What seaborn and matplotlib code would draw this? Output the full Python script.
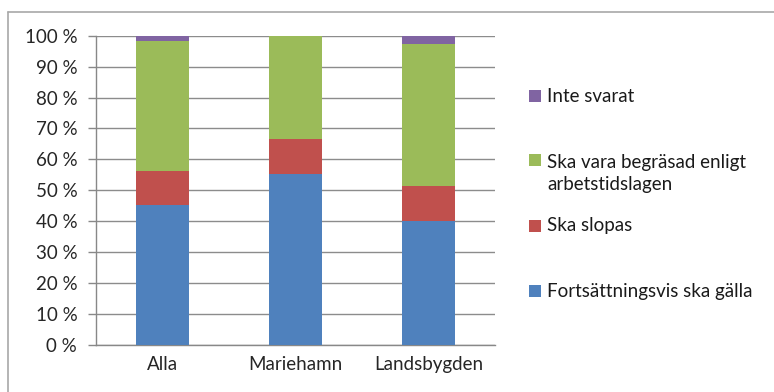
import matplotlib.pyplot as plt
import seaborn as sns
import pandas as pd
from matplotlib.patches import Rectangle
from matplotlib.lines import Line2D

groups = ["Alla", "Mariehamn", "Landsbygden"]
series = ["Fortsättningsvis ska gälla", "Ska slopas",
          "Ska vara begräsad enligt\narbetstidslagen", "Inte svarat"]
fortsatt = [45.3, 55.2, 40.2]
slopas = [11.0, 11.5, 11.3]
begransad = [41.9, 33.3, 45.8]
inte_svarat = [1.8, 0.0, 2.7]
colors = ["#4F81BD", "#C0504D", "#9BBB59", "#8064A2"]

df = pd.DataFrame({"grupp": groups, series[0]: fortsatt, series[1]: slopas,
                   series[2]: begransad, series[3]: inte_svarat})
cum = df[series].cumsum(axis=1)
cum["grupp"] = df["grupp"]

sns.set_style("white")
plt.rcParams["font.family"] = ["Lato", "DejaVu Sans"]
fs = 13.5

W, H = 774, 392
fig = plt.figure(figsize=(W / 100, H / 100), dpi=100)
ax = fig.add_axes([96 / W, 1 - 345 / H, (495 - 96) / W, (345 - 35.7) / H])

# stacked bars: draw cumulative totals from the top layer down
for s, c in reversed(list(zip(series, colors))):
    sns.barplot(data=cum, x="grupp", y=s, color=c, width=0.4, ax=ax,
                saturation=1, linewidth=0, zorder=3)

ax.set_ylim(0, 100)
ax.set_xlim(-0.5, 2.5)
ax.set_yticks(range(0, 101, 10))
ax.set_yticklabels([f"{v} %" for v in range(0, 101, 10)], fontsize=fs)
ax.set_xticks([0, 1, 2])
ax.set_xticklabels(groups, fontsize=fs)
ax.set_xticks([-0.5, 0.5, 1.5, 2.5], minor=True)
ax.tick_params(axis="x", which="major", length=0, pad=8)
ax.tick_params(axis="x", which="minor", length=4, color="#888888", width=1)
ax.tick_params(axis="y", length=5.5, color="#888888", width=1, left=True, pad=8)
ax.set_xlabel("")
ax.set_ylabel("")
ax.yaxis.grid(True, color="#8c8c8c", linewidth=1)
ax.set_axisbelow(True)
for side in ["top", "right"]:
    ax.spines[side].set_visible(False)
for side in ["left", "bottom"]:
    ax.spines[side].set_color("#888888")
    ax.spines[side].set_linewidth(1)

# legend, laid out like the original (top entry first)
legend_y = [291, 226, 173.5, 96]
handle_y = [291, 226, 160, 96]
for s, c, ty, hy in zip(series, colors, legend_y, handle_y):
    fig.patches.append(Rectangle((529 / W, 1 - (hy + 6) / H), 12 / W, 12 / H,
                                 transform=fig.transFigure, facecolor=c,
                                 edgecolor="none"))
    fig.text(547 / W, 1 - ty / H, s, fontsize=fs, va="center", ha="left",
             linespacing=1.4, color="#1a1a1a")

# chart area border (only top and left edges fall inside the picture)
fig.lines.append(Line2D([8 / W, 1], [1 - 12 / H, 1 - 12 / H],
                        transform=fig.transFigure, color="#a8a8a8", linewidth=1.2))
fig.lines.append(Line2D([8 / W, 8 / W], [0, 1 - 12 / H],
                        transform=fig.transFigure, color="#a8a8a8", linewidth=1.2))

fig.savefig("out.png", dpi=100)
